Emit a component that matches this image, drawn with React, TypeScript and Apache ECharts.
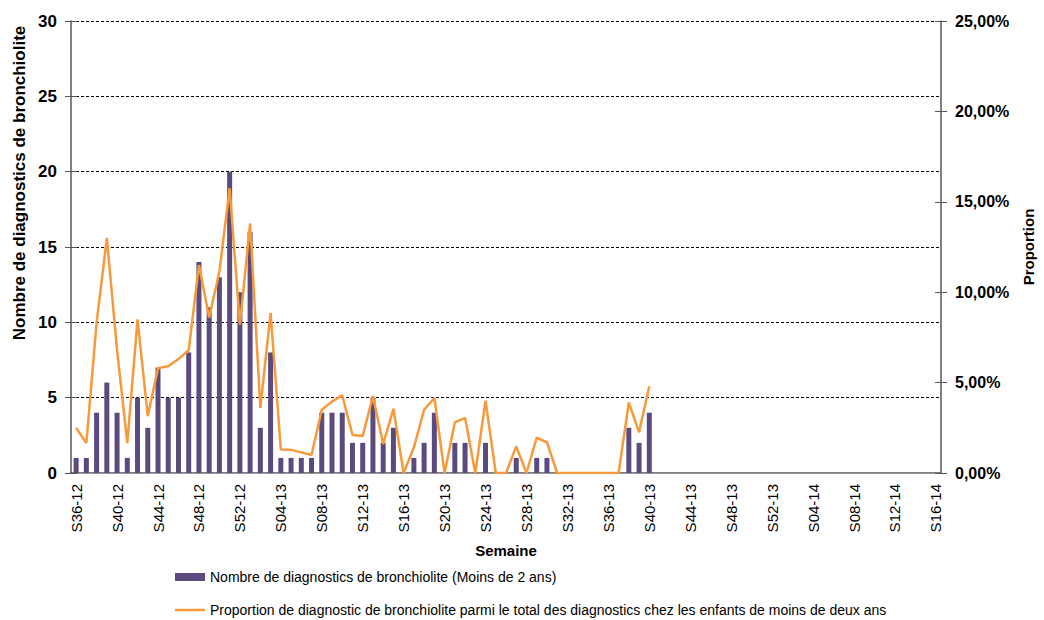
import React, { useEffect, useRef } from "react";
import * as echarts from "echarts";

const weeks: string[] = [
  "S36-12","S37-12","S38-12","S39-12","S40-12","S41-12","S42-12","S43-12","S44-12","S45-12",
  "S46-12","S47-12","S48-12","S49-12","S50-12","S51-12","S52-12",
  "S01-13","S02-13","S03-13","S04-13","S05-13","S06-13","S07-13","S08-13","S09-13","S10-13",
  "S11-13","S12-13","S13-13","S14-13","S15-13","S16-13","S17-13","S18-13","S19-13","S20-13",
  "S21-13","S22-13","S23-13","S24-13","S25-13","S26-13","S27-13","S28-13","S29-13","S30-13",
  "S31-13","S32-13","S33-13","S34-13","S35-13","S36-13","S37-13","S38-13","S39-13","S40-13",
  "S41-13","S42-13","S43-13","S44-13","S45-13","S46-13","S47-13","S48-13","S49-13","S50-13",
  "S51-13","S52-13",
  "S01-14","S02-14","S03-14","S04-14","S05-14","S06-14","S07-14","S08-14","S09-14","S10-14",
  "S11-14","S12-14","S13-14","S14-14","S15-14","S16-14",
];

// Nombre de diagnostics (S36-12 .. S40-13)
const diagnostics: number[] = [
  1, 1, 4, 6, 4, 1, 5, 3, 7, 5, 5, 8, 14, 11, 13, 20, 12,
  16, 3, 8, 1, 1, 1, 1, 4, 4, 4, 2, 2, 5, 2, 3, 0, 1, 2, 4, 0, 2, 2, 0,
  2, 0, 0, 1, 0, 1, 1, 0, 0, 0, 0, 0, 0, 0, 3, 2, 4,
];

// Proportion (%) (S36-12 .. S40-13)
const proportion: number[] = [
  2.5, 1.65, 8.3, 13.0, 6.8, 1.65, 8.5, 3.15, 5.8, 5.9, 6.3, 6.8, 11.5, 8.6, 11.15, 15.75, 8.2,
  13.8, 3.6, 8.85, 1.3, 1.28, 1.14, 1.0, 3.5, 3.95, 4.3, 2.1, 2.05, 4.25, 1.6, 3.55, 0, 1.42, 3.5, 4.15, 0, 2.8, 3.05, 0,
  4.0, 0, 0, 1.47, 0, 1.95, 1.7, 0, 0, 0, 0, 0, 0, 0, 3.9, 2.25, 4.8,
];

const leftTicks = { min: 0, max: 30, interval: 5 };
const rightTicks = { min: 0, max: 25, interval: 5 };

const barName = "Nombre de diagnostics de bronchiolite (Moins de 2 ans)";
const lineName =
  "Proportion de diagnostic de bronchiolite parmi le total des diagnostics chez les enfants de moins de deux ans";
const leftTitle = "Nombre de diagnostics de bronchiolite";
const rightTitle = "Proportion";
const xTitle = "Semaine";

const FONT = "'Liberation Sans', Arial, sans-serif";
const BAR_COLOR = "#5b4a7e";
const LINE_COLOR = "#f79a3c";
const AXIS_COLOR = "#555";

export default function App() {
  const ref = useRef<HTMLDivElement>(null);
  useEffect(() => {
    if (!ref.current) return;
    document.body.style.margin = "0";
    document.body.style.overflow = "hidden";
    document.documentElement.style.overflow = "hidden";
    const chart = echarts.init(ref.current, null, { renderer: "svg", width: 1044, height: 620 });
    const pad = (arr: number[]) => weeks.map((_, i) => (i < arr.length ? arr[i] : null));
    const legendText = { fontFamily: FONT, fontSize: 14, color: "#000" };
    const innerTickAxis = (t: { min: number; max: number; interval: number }, position: string) => ({
      type: "value",
      min: t.min,
      max: t.max,
      interval: t.interval,
      position,
      axisLine: { show: false },
      axisTick: { show: true, inside: true, length: 6, lineStyle: { color: AXIS_COLOR } },
      axisLabel: { show: false },
      splitLine: { show: false },
    });
    chart.setOption({
      animation: false,
      backgroundColor: "#ffffff",
      textStyle: { fontFamily: FONT },
      grid: { left: 71, right: 92, top: 21, bottom: 147, containLabel: false },
      legend: [
        {
          left: 175,
          top: 570,
          padding: 0,
          itemWidth: 30,
          itemHeight: 8,
          textStyle: legendText,
          data: [{ name: barName, icon: "rect" }],
        },
        {
          left: 175,
          top: 603,
          padding: 0,
          itemWidth: 30,
          itemHeight: 2.5,
          textStyle: legendText,
          data: [{ name: lineName, icon: "rect" }],
        },
      ],
      graphic: [
        {
          type: "text",
          x: 19,
          y: 183,
          rotation: Math.PI / 2,
          style: {
            text: leftTitle,
            fill: "#000",
            font: `bold 17px ${FONT}`,
            align: "center",
            verticalAlign: "middle",
          },
        },
      ],
      xAxis: [
        {
          type: "category",
          data: weeks,
          boundaryGap: true,
          name: xTitle,
          nameLocation: "middle",
          nameGap: 70,
          nameTextStyle: { fontFamily: FONT, fontWeight: "bold", fontSize: 15, color: "#000", verticalAlign: "top" },
          axisLine: { lineStyle: { color: AXIS_COLOR, width: 1.5 } },
          axisTick: { interval: 0, length: 5, lineStyle: { color: AXIS_COLOR } },
          axisLabel: { interval: 3, rotate: 90, fontSize: 15, color: "#000", margin: 11, fontFamily: FONT },
          splitLine: { show: false },
        },
        {
          type: "category",
          data: weeks,
          position: "top",
          axisLine: { lineStyle: { color: "#999", width: 1 } },
          axisTick: { show: false },
          axisLabel: { show: false },
          splitLine: { show: false },
        },
      ],
      yAxis: [
        {
          type: "value",
          min: leftTicks.min,
          max: leftTicks.max,
          interval: leftTicks.interval,
          position: "left",
          axisLine: { show: true, lineStyle: { color: AXIS_COLOR, width: 1.5 } },
          axisTick: { show: true, length: 6, lineStyle: { color: AXIS_COLOR } },
          axisLabel: { fontSize: 17, fontWeight: "bold", color: "#000", margin: 14, fontFamily: FONT },
          splitLine: { show: true, lineStyle: { color: "#000", type: [3, 2], width: 1 } },
        },
        {
          type: "value",
          min: rightTicks.min,
          max: rightTicks.max,
          interval: rightTicks.interval,
          position: "right",
          name: rightTitle,
          nameLocation: "middle",
          nameGap: 80,
          nameRotate: 90,
          nameTextStyle: { fontFamily: FONT, fontSize: 15, fontWeight: "bold", color: "#000" },
          axisLine: { show: true, lineStyle: { color: AXIS_COLOR, width: 1.5 } },
          axisTick: { show: true, length: 6, lineStyle: { color: AXIS_COLOR } },
          axisLabel: {
            fontSize: 16,
            fontWeight: "bold",
            color: "#000",
            margin: 14,
            fontFamily: FONT,
            formatter: (v: number) => v.toFixed(2).replace(".", ",") + "%",
          },
          splitLine: { show: false },
        },
        innerTickAxis(leftTicks, "left"),
        innerTickAxis(rightTicks, "right"),
      ],
      series: [
        {
          name: barName,
          type: "bar",
          xAxisIndex: 0,
          yAxisIndex: 0,
          data: pad(diagnostics),
          barWidth: 5,
          itemStyle: { color: BAR_COLOR },
        },
        {
          name: lineName,
          type: "line",
          xAxisIndex: 0,
          yAxisIndex: 1,
          data: pad(proportion),
          symbol: "none",
          lineStyle: { color: LINE_COLOR, width: 2.5 },
          itemStyle: { color: LINE_COLOR },
          connectNulls: false,
        },
      ],
    });
    return () => chart.dispose();
  }, []);
  return (
    <div
      ref={ref}
      style={{ position: "absolute", left: 0, top: 0, width: 1044, height: 620 }}
    />
  );
}
